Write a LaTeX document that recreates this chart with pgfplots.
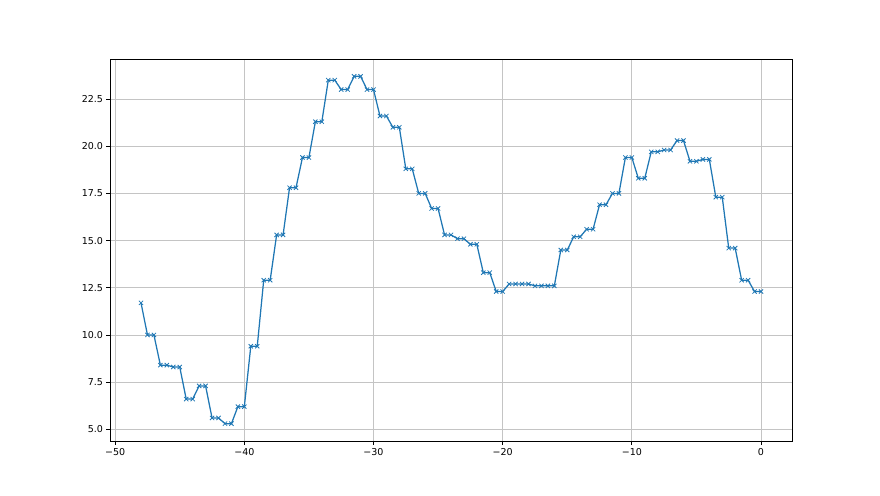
\documentclass[border=0pt]{standalone}
\usepackage{fontspec}
\setmainfont{DejaVu Sans}
\usepackage{pgfplots}
\pgfplotsset{compat=1.18}
\definecolor{mplblue}{HTML}{1F77B4}
\definecolor{gridgray}{HTML}{C4C4C4}

\begin{document}
\begin{tikzpicture}
\path[use as bounding box] (-110pt,-54pt) rectangle (770pt,441pt);
\begin{axis}[
    at={(0pt,0pt)}, anchor=south west,
    scale only axis,
    width=682pt, height=382pt,
    xmin=-50.4, xmax=2.4,
    ymin=4.38, ymax=24.62,
    xtick={-50,-40,-30,-20,-10,0},
    xticklabels={−50,−40,−30,−20,−10,0},
    ytick={5,7.5,10,12.5,15,17.5,20,22.5},
    yticklabels={5.0,7.5,10.0,12.5,15.0,17.5,20.0,22.5},
    grid=major,
    grid style={gridgray, line width=0.8pt},
    axis line style={black, line width=0.8pt},
    tick style={black, line width=0.8pt},
    tick align=outside,
    major tick length=3.5pt,
    tick pos=left,
    tick label style={font=\fontsize{9.5}{11}\selectfont},
    /pgf/number format/assume math mode=true,
]
\addplot[color=mplblue, line width=1.25pt, mark=x, mark size=3pt,
    mark options={line width=0.8pt}] coordinates {
    (-48,11.7)
    (-47.5,10.0) (-47,10.0)
    (-46.5,8.4) (-46,8.4)
    (-45.5,8.3) (-45,8.3)
    (-44.5,6.6) (-44,6.6)
    (-43.5,7.3) (-43,7.3)
    (-42.5,5.6) (-42,5.6)
    (-41.5,5.3) (-41,5.3)
    (-40.5,6.2) (-40,6.2)
    (-39.5,9.4) (-39,9.4)
    (-38.5,12.9) (-38,12.9)
    (-37.5,15.3) (-37,15.3)
    (-36.5,17.8) (-36,17.8)
    (-35.5,19.4) (-35,19.4)
    (-34.5,21.3) (-34,21.3)
    (-33.5,23.5) (-33,23.5)
    (-32.5,23.0) (-32,23.0)
    (-31.5,23.7) (-31,23.7)
    (-30.5,23.0) (-30,23.0)
    (-29.5,21.6) (-29,21.6)
    (-28.5,21.0) (-28,21.0)
    (-27.5,18.8) (-27,18.8)
    (-26.5,17.5) (-26,17.5)
    (-25.5,16.7) (-25,16.7)
    (-24.5,15.3) (-24,15.3)
    (-23.5,15.1) (-23,15.1)
    (-22.5,14.8) (-22,14.8)
    (-21.5,13.3) (-21,13.3)
    (-20.5,12.3) (-20,12.3)
    (-19.5,12.7) (-19,12.7)
    (-18.5,12.7) (-18,12.7)
    (-17.5,12.6) (-17,12.6)
    (-16.5,12.6) (-16,12.6)
    (-15.5,14.5) (-15,14.5)
    (-14.5,15.2) (-14,15.2)
    (-13.5,15.6) (-13,15.6)
    (-12.5,16.9) (-12,16.9)
    (-11.5,17.5) (-11,17.5)
    (-10.5,19.4) (-10,19.4)
    (-9.5,18.3) (-9,18.3)
    (-8.5,19.7) (-8,19.7)
    (-7.5,19.8) (-7,19.8)
    (-6.5,20.3) (-6,20.3)
    (-5.5,19.2) (-5,19.2)
    (-4.5,19.3) (-4,19.3)
    (-3.5,17.3) (-3,17.3)
    (-2.5,14.6) (-2,14.6)
    (-1.5,12.9) (-1,12.9)
    (-0.5,12.3) (0,12.3)
};
\end{axis}
\end{tikzpicture}
\end{document}
